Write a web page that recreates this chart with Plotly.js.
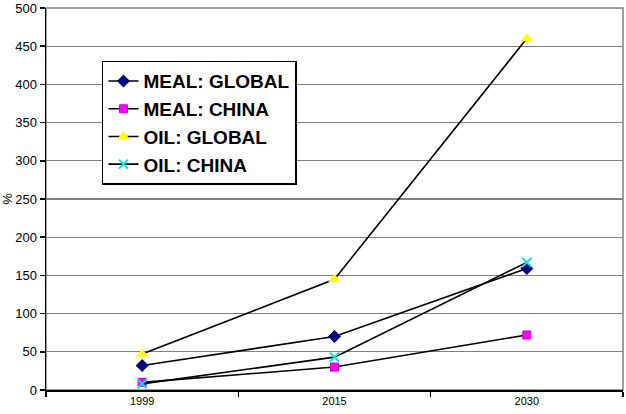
<!DOCTYPE html>
<html>
<head>
<meta charset="utf-8">
<script src="https://cdn.plot.ly/plotly-3.0.1.min.js"></script>
<style>html,body{margin:0;padding:0;background:#fff;}#chart{width:626px;height:414px;}</style>
</head>
<body>
<div id="chart"></div>
<script>
const years = ["1999", "2015", "2030"];
const mealGlobal = [32, 70, 159];
const mealChina = [10, 30, 72];
const oilGlobal = [47, 145, 460];
const oilChina = [8, 43, 167];
const yTicks = [0, 50, 100, 150, 200, 250, 300, 350, 400, 450, 500];

const lineStyle = {color: "#000000", width: 1.6};
const traces = [
  {x: years, y: mealGlobal, name: "MEAL: GLOBAL", type: "scatter", mode: "lines+markers",
   line: lineStyle, marker: {symbol: "diamond", size: 10, color: "#000080"}},
  {x: years, y: mealChina, name: "MEAL: CHINA", type: "scatter", mode: "lines+markers",
   line: lineStyle, marker: {symbol: "square", size: 8, color: "#FF00FF", line: {color: "#CC00CC", width: 1}}},
  {x: years, y: oilGlobal, name: "OIL: GLOBAL", type: "scatter", mode: "lines+markers",
   line: lineStyle, marker: {symbol: "triangle-up", size: 11, color: "#FFFF00"}},
  {x: years, y: oilChina, name: "OIL: CHINA", type: "scatter", mode: "lines+markers",
   line: lineStyle, marker: {symbol: "x-thin", size: 9, color: "#00FFFF", line: {color: "#00E5E5", width: 2}}}
];

const layout = {
  width: 626, height: 414,
  margin: {l: 46, r: 3, t: 8, b: 24},
  paper_bgcolor: "#ffffff", plot_bgcolor: "#ffffff",
  font: {family: "Liberation Sans, Arial, sans-serif", size: 12, color: "#000"},
  showlegend: true,
  legend: {
    x: 0.097, y: 0.862, xanchor: "left", yanchor: "top",
    bgcolor: "#ffffff", bordercolor: "#000000", borderwidth: 1.5,
    font: {family: "Liberation Sans, Arial, sans-serif", size: 19, color: "#000", weight: "bold"},
    tracegroupgap: 0, itemwidth: 30
  },
  xaxis: {
    type: "category", range: [-0.5, 2.5], tickson: "boundaries",
    ticks: "outside", ticklen: 5, tickcolor: "#000", tickwidth: 1.5,
    showline: true, linecolor: "#000", linewidth: 1.5, showgrid: false,
    tickfont: {size: 11}, zeroline: false, fixedrange: true
  },
  yaxis: {
    range: [0, 500], tickvals: yTicks, ticktext: yTicks.map(String),
    ticks: "outside", ticklen: 5, tickcolor: "#000", tickwidth: 1.5,
    showline: true, linecolor: "#000", linewidth: 1.5,
    showgrid: true, gridcolor: "#808080", gridwidth: 1.3,
    zeroline: false, tickfont: {size: 13}, ticklabeloverflow: "allow",
    title: {text: "%", font: {size: 13}, standoff: 4}
  },
  shapes: [
    {type: "rect", xref: "paper", yref: "paper", x0: 0, x1: 1, y0: 0, y1: 1,
     line: {color: "#808080", width: 1.5}, layer: "below"}
  ]
};

Plotly.newPlot("chart", traces, layout, {displayModeBar: false, staticPlot: true});
</script>
</body>
</html>
